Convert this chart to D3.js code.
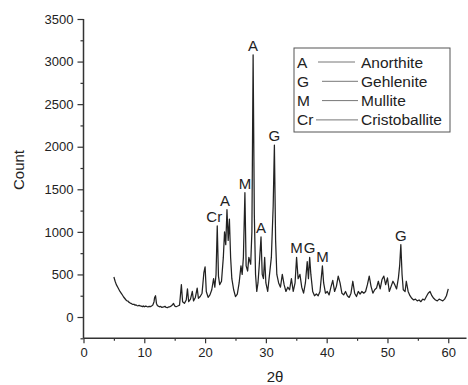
<!DOCTYPE html>
<html><head><meta charset="utf-8">
<script src="https://cdn.jsdelivr.net/npm/d3@7"></script>
<style>
html,body{margin:0;padding:0;background:#fff;}
svg text{font-family:"Liberation Sans",Arial,sans-serif;fill:#222;}
</style></head>
<body>
<svg id="c" width="468" height="385"></svg>
<script>
// XRD pattern: 2θ (degrees) and counts
const twoTheta = [5.0,5.2,5.4,5.7,6.0,6.3,6.6,7.0,7.15,7.3,7.45,7.6,7.8,8.0,8.15,8.3,8.45,8.6,8.8,9.0,9.15,9.3,9.5,9.7,9.85,10.0,10.2,10.4,10.6,10.8,11.0,11.2,11.4,11.6,11.7,11.85,12.0,12.15,12.3,12.5,12.7,12.9,13.0,13.2,13.4,13.6,13.8,14.0,14.2,14.4,14.6,14.8,15.0,15.2,15.4,15.6,15.8,16.1,16.3,16.6,16.9,17.1,17.3,17.6,17.9,18.1,18.4,18.7,18.9,19.2,19.5,19.8,20.0,20.2,20.5,20.8,21.1,21.4,21.6,21.8,22.0,22.2,22.4,22.7,23.0,23.2,23.4,23.6,23.8,24.0,24.2,24.4,24.7,25.0,25.3,25.6,25.9,26.1,26.3,26.55,26.75,27.0,27.2,27.5,27.7,27.9,28.1,28.3,28.5,28.7,28.9,29.2,29.4,29.6,29.8,30.0,30.3,30.6,30.9,31.2,31.4,31.6,31.8,32.1,32.4,32.7,33.0,33.3,33.6,33.9,34.2,34.5,34.8,35.05,35.3,35.6,35.9,36.2,36.5,36.8,37.0,37.2,37.4,37.7,38.0,38.3,38.6,38.9,39.3,39.5,39.8,40.1,40.4,40.7,41.0,41.3,41.6,41.9,42.2,42.5,42.8,43.1,43.4,43.7,44.0,44.3,44.6,44.9,45.2,45.5,45.8,46.1,46.4,46.7,47.0,47.3,47.6,47.9,48.2,48.5,48.8,49.1,49.4,49.7,50.0,50.3,50.6,50.9,51.2,51.5,51.8,52.0,52.2,52.4,52.6,52.9,53.1,53.4,53.7,54.0,54.3,54.6,54.9,55.2,55.5,55.8,56.1,56.4,56.7,57.0,57.3,57.6,57.9,58.2,58.5,58.8,59.1,59.4,59.7,60.0];
const counts = [470,420,380,340,300,270,235,200,190,188,175,168,160,152,148,150,140,142,135,132,138,130,128,122,130,120,128,124,118,126,122,130,140,180,230,250,160,135,128,120,124,112,115,118,126,112,110,118,120,128,140,160,130,122,126,132,140,380,180,160,200,330,180,210,300,190,230,340,220,240,280,520,590,300,230,260,320,450,350,500,1070,480,380,420,700,1000,850,1260,900,1150,700,450,320,240,270,400,600,500,700,1460,600,540,700,620,1000,3080,1200,500,300,400,600,940,500,450,700,400,300,500,700,1300,2020,900,500,400,350,500,380,300,350,320,450,300,400,700,450,500,350,280,400,650,450,700,500,300,250,270,250,300,600,400,280,300,260,350,430,300,360,480,400,280,260,300,250,230,280,420,280,240,300,270,300,280,300,380,480,360,280,320,340,420,330,440,480,380,460,300,360,420,380,330,460,600,850,500,320,300,420,300,250,220,200,210,190,200,180,210,200,240,280,300,250,220,200,190,210,200,190,210,250,330];

// peak annotations
const peakLabels = ["Cr","A","M","A","A","G","M","G","M","G"];
const peakTheta  = [22.0,23.6,26.55,27.9,29.2,31.4,35.05,37.2,39.3,52.2];
const peakCount  = [1070,1260,1460,3080,940,2020,700,700,600,850];

// legend
const legendAbbr = ["A","G","M","Cr"];
const legendName = ["Anorthite","Gehlenite","Mullite","Cristoballite"];

const xTicks = [0,10,20,30,40,50,60];
const yTicks = [0,500,1000,1500,2000,2500,3000,3500];

const svg = d3.select("#c");
const x = d3.scaleLinear().domain([0,63]).range([83.5,466.5]);
const y = d3.scaleLinear().domain([-250,3500]).range([338.3,19]);
const axisColor = "#333";
const tickFont = "13px";

// x axis
const gx = svg.append("g").attr("transform",`translate(0,${y(-250)})`);
gx.call(d3.axisBottom(x).tickValues(d3.range(5,63,10)).tickSize(2.5).tickFormat(""));
gx.selectAll(".tick line").attr("stroke",axisColor).attr("stroke-width",1.2);
const gx2 = svg.append("g").attr("transform",`translate(0,${y(-250)})`);
gx2.call(d3.axisBottom(x).tickValues(xTicks).tickSize(5).tickPadding(4).tickFormat(d3.format("d")));
gx2.selectAll("text").attr("font-size",tickFont).attr("fill","#222").attr("font-family","Liberation Sans, Arial, sans-serif");
gx2.selectAll(".tick line").attr("stroke",axisColor).attr("stroke-width",1.2);
svg.selectAll(".domain").remove();
svg.append("line").attr("x1",x(0)).attr("x2",x(63)).attr("y1",y(-250)).attr("y2",y(-250)).attr("stroke",axisColor).attr("stroke-width",1.5);

// y axis
const gy0 = svg.append("g").attr("transform",`translate(${x(0)},0)`);
gy0.call(d3.axisLeft(y).tickValues(d3.range(-250,3500,500)).tickSize(3).tickFormat(""));
gy0.selectAll(".tick line").attr("stroke",axisColor).attr("stroke-width",1.2);
const gy = svg.append("g").attr("transform",`translate(${x(0)},0)`);
gy.call(d3.axisLeft(y).tickValues(yTicks).tickSize(6).tickPadding(4).tickFormat(d3.format("d")));
gy.selectAll("text").attr("font-size",tickFont).attr("fill","#222").attr("font-family","Liberation Sans, Arial, sans-serif");
gy.selectAll(".tick line").attr("stroke",axisColor).attr("stroke-width",1.2);
svg.selectAll(".domain").remove();
svg.append("line").attr("x1",x(0)).attr("x2",x(0)).attr("y1",y(-250)).attr("y2",y(3500)).attr("stroke",axisColor).attr("stroke-width",1.5);

// axis titles
svg.append("text").attr("x",275).attr("y",382).attr("text-anchor","middle").attr("font-size","15px").text("2θ");
svg.append("text").attr("transform",`translate(24,170) rotate(-90)`).attr("text-anchor","middle").attr("font-size","15px").text("Count");

// pattern line
const line = d3.line().x((d,i)=>x(twoTheta[i])).y(d=>y(d));
svg.append("path").datum(counts).attr("d",line).attr("fill","none").attr("stroke","#222").attr("stroke-width",1.25).attr("stroke-linejoin","round");

// peak labels
svg.selectAll(".pl").data(peakLabels).enter().append("text")
  .attr("class","pl").attr("font-size","15px").attr("text-anchor","middle")
  .attr("x",(d,i)=>x(peakTheta[i]) + (i===0?-3:(i===1?-2:0)))
  .attr("y",(d,i)=>y(peakCount[i]) - 4)
  .text(d=>d);

// legend
const lg = svg.append("g");
lg.append("rect").attr("x",294).attr("y",48).attr("width",156).attr("height",84).attr("fill","#fff").attr("stroke","#555").attr("stroke-width",1);
legendAbbr.forEach((a,i)=>{
  const cy = 62 + i*19.3;
  lg.append("text").attr("x",297).attr("y",cy+5.5).attr("font-size","15.5px").text(a);
  lg.append("line").attr("x1",i===0?318:(i===3?316:322)).attr("x2",i===0?355:358).attr("y1",cy).attr("y2",cy).attr("stroke","#777").attr("stroke-width",1);
  lg.append("text").attr("x",361).attr("y",cy+5.5).attr("font-size","15.5px").text(legendName[i]);
});
</script>
</body></html>
